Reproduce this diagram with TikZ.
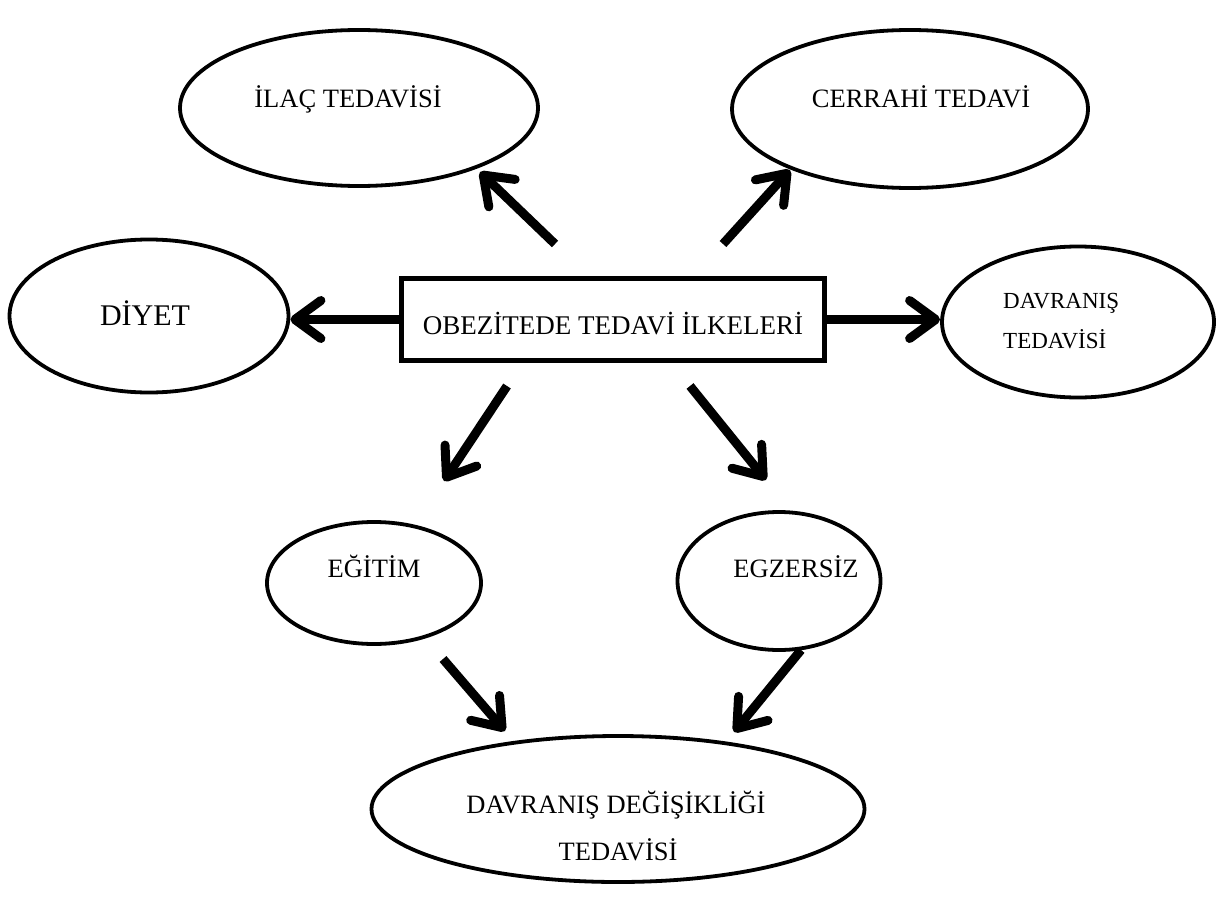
\documentclass[tikz,border=0pt]{standalone}
\usepackage{fontspec}
\setmainfont{Liberation Serif}
\usetikzlibrary{arrows.meta,shapes.geometric}
\tikzset{
  oval/.style={ellipse, draw=black, line width=3.8pt, inner sep=0pt},
  mainbox/.style={rectangle, draw=black, line width=5.5pt, inner sep=0pt, minimum width=423pt, minimum height=82pt},
  lbl/.style={inner sep=0pt, anchor=base, font=\fontsize{26.5}{30}\selectfont},
  arr/.style={line width=9pt, -{Straight Barb[round,length=26pt,width=38pt]}}
}
\begin{document}
\begin{tikzpicture}[x=1pt,y=-1pt]
\useasboundingbox (0,0) rectangle (1225,915);
% ellipses
\node[oval, minimum width=358pt, minimum height=156pt] (ilac) at (359,108) {};
\node[oval, minimum width=356pt, minimum height=158pt] (cerr) at (910,109) {};
\node[oval, minimum width=279pt, minimum height=153pt] (diyet) at (149,316) {};
\node[oval, minimum width=272pt, minimum height=151pt] (davr) at (1078,322) {};
\node[oval, minimum width=214pt, minimum height=122pt] (egit) at (374,583) {};
\node[oval, minimum width=203pt, minimum height=138pt] (egz) at (779,581) {};
\node[oval, minimum width=493pt, minimum height=146pt] (dd) at (618,809) {};
% central box
\node[mainbox] (main) at (613,319.5) {};
% labels
\node[lbl, font=\fontsize{27}{30}\selectfont] (mainT) at (613,334) {OBEZİTEDE TEDAVİ İLKELERİ};
\node[lbl] (ilacT) at (348,108) {İLAÇ TEDAVİSİ};
\node[lbl] (cerrT) at (921,108) {CERRAHİ TEDAVİ};
\node[lbl, font=\fontsize{30}{34}\selectfont] (diyetT) at (145,325) {DİYET};
\node[lbl, anchor=base west, font=\fontsize{23}{27}\selectfont] (davrT1) at (1003,308) {DAVRANIŞ};
\node[lbl, anchor=base west, font=\fontsize{23}{27}\selectfont] (davrT2) at (1003,348) {TEDAVİSİ};
\node[lbl] (egitT) at (374,577) {EĞİTİM};
\node[lbl] (egzT) at (796,577) {EGZERSİZ};
\node[lbl] (ddT1) at (616,813) {DAVRANIŞ DEĞİŞİKLİĞİ};
\node[lbl] (ddT2) at (618,860) {TEDAVİSİ};
% arrow end points
\coordinate (a1s) at (555,244); \coordinate (a1e) at (480,172);
\coordinate (a2s) at (723,244); \coordinate (a2e) at (790,170);
\coordinate (a5s) at (507,386); \coordinate (a5e) at (444,481);
\coordinate (a6s) at (690,386); \coordinate (a6e) at (766,480);
\coordinate (a7s) at (443,659); \coordinate (a7e) at (505,731);
\coordinate (a8s) at (801,650); \coordinate (a8e) at (734,732);
% arrows
\draw[arr] (a1s) -- (a1e);
\draw[arr] (a2s) -- (a2e);
\draw[arr] (main.west) -- (main.west -| diyet.east);
\draw[arr] (main.east) -- (main.east -| davr.west);
\draw[arr] (a5s) -- (a5e);
\draw[arr] (a6s) -- (a6e);
\draw[arr] (a7s) -- (a7e);
\draw[arr] (a8s) -- (a8e);
\end{tikzpicture}
\end{document}
